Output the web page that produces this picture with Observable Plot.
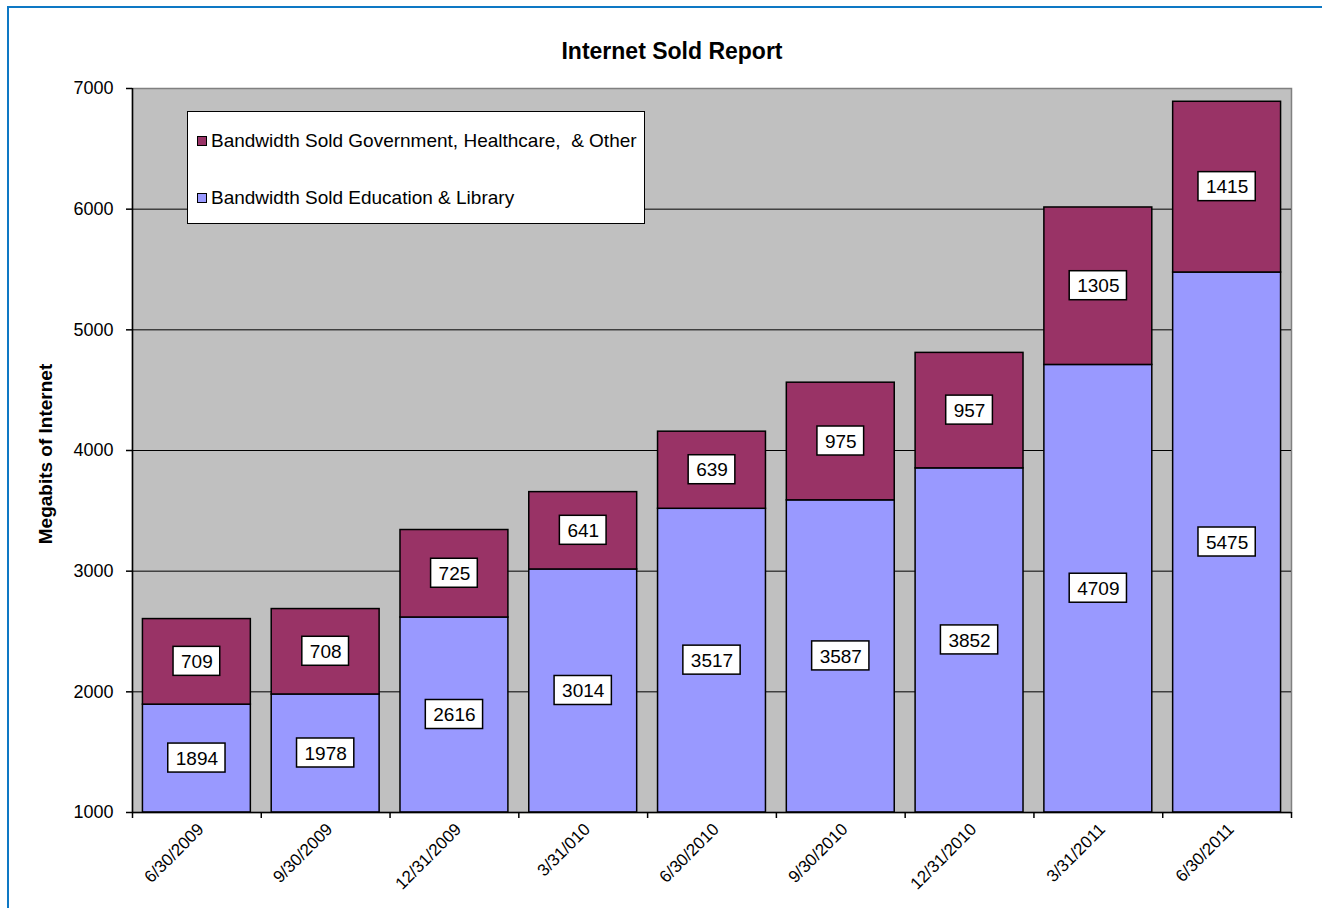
<!DOCTYPE html>
<html>
<head>
<meta charset="utf-8">
<script src="https://cdn.jsdelivr.net/npm/d3@7"></script>
<script src="https://cdn.jsdelivr.net/npm/@observablehq/plot@0.6"></script>
<style>
  html, body { margin: 0; padding: 0; background: #fff; }
  #wrap { position: relative; width: 1322px; height: 908px; overflow: hidden; background: #fff;
          font-family: "Liberation Sans", Arial, sans-serif; color: #000; }
  #border { position: absolute; left: 7px; top: 6px; width: 1400px; height: 1000px;
            border-left: 2px solid #0E78C4; border-top: 2px solid #0E78C4; }
  #title { position: absolute; left: 0; width: 1344px; top: 37px; text-align: center;
           font-weight: bold; font-size: 23px; line-height: 28px; }
  #chart { position: absolute; left: 0; top: 0; }
  #ylabel { position: absolute; left: 46px; top: 454px; transform: translate(-50%, -50%) rotate(-90deg);
            font-weight: bold; font-size: 19px; white-space: nowrap; }
  #legend { position: absolute; left: 187px; top: 111px; width: 456px; height: 111px;
            background: #fff; border: 1.5px solid #000; }
  .item { position: absolute; left: 9px; font-size: 19px; line-height: 22px; white-space: pre; }
  .sw { display: inline-block; width: 8px; height: 8px; border: 1px solid #000; margin-right: 4px; vertical-align: 1px; }
</style>
</head>
<body>
<div id="wrap">
  <div id="border"></div>
  <div id="chart"></div>
  <div id="title">Internet Sold Report</div>
  <div id="ylabel">Megabits of Internet</div>
  <div id="legend"></div>
</div>
<script>
const categories = ["6/30/2009", "9/30/2009", "12/31/2009", "3/31/010", "6/30/2010",
                    "9/30/2010", "12/31/2010", "3/31/2011", "6/30/2011"];
const education = [1894, 1978, 2616, 3014, 3517, 3587, 3852, 4709, 5475];
const government = [709, 708, 725, 641, 639, 975, 957, 1305, 1415];
const yTicks = [1000, 2000, 3000, 4000, 5000, 6000, 7000];
const gridValues = [2000, 3000, 4000, 5000, 6000];
const seriesNames = ["Bandwidth Sold Government, Healthcare,  & Other", "Bandwidth Sold Education & Library"];
const seriesColors = ["#993366", "#9999FF"];

const base = 1000;
const half = 0.419;
const rows = categories.map((c, i) => ({i, c, edu: education[i], gov: government[i]}));
const labelRows = rows.flatMap(d => [
  {i: d.i, mid: (base + d.edu) / 2, v: d.edu},
  {i: d.i, mid: d.edu + d.gov / 2, v: d.gov}
]);
const boundaries = d3.range(categories.length + 1).map(k => k - 0.5);
const FONT = '"Liberation Sans", Arial, sans-serif';

const chart = Plot.plot({
  width: 1322, height: 908,
  marginLeft: 132, marginRight: 31, marginTop: 88, marginBottom: 96,
  style: {fontFamily: FONT, fontSize: "18px", color: "#000", background: "transparent"},
  x: {type: "linear", domain: [-0.5, categories.length - 0.5], label: null},
  y: {type: "linear", domain: [1000, 7000], label: null},
  marks: [
    Plot.frame({fill: "#C0C0C0", stroke: "#808080", strokeWidth: 1.5}),
    Plot.ruleY(gridValues, {stroke: "#000", strokeWidth: 1}),
    Plot.rect(rows, {x1: d => d.i - half, x2: d => d.i + half, y1: () => base, y2: "edu",
                     fill: seriesColors[1], stroke: "#000", strokeWidth: 1.5}),
    Plot.rect(rows, {x1: d => d.i - half, x2: d => d.i + half, y1: "edu", y2: d => d.edu + d.gov,
                     fill: seriesColors[0], stroke: "#000", strokeWidth: 1.5}),
    Plot.ruleX([-0.5], {stroke: "#000", strokeWidth: 1.5}),
    Plot.ruleY([1000], {stroke: "#000", strokeWidth: 1.5}),
    Plot.axisY(yTicks, {tickSize: 6, tickPadding: 13, fontSize: 18, stroke: "#000", strokeWidth: 1.5,
                        tickFormat: d => String(d)}),
    Plot.axisX(boundaries, {tickSize: 6, tickFormat: () => "", stroke: "#000", strokeWidth: 1.5}),
    Plot.axisX(d3.range(categories.length), {tickSize: 0, tickPadding: 13, tickRotate: -45,
               tickFormat: k => categories[k], fontSize: 17, dx: 4, dy: 1}),
    Plot.text(labelRows, {x: "i", y: "mid", text: d => String(d.v), fontSize: 19, fill: "#000"})
  ]
});
document.getElementById("chart").appendChild(chart);

// white boxes behind the value labels (positions from Plot's own scales)
const xs = chart.scale("x"), ys = chart.scale("y");
const ctx = document.createElement("canvas").getContext("2d");
ctx.font = "19px " + FONT;
const boxLayer = document.createElementNS("http://www.w3.org/2000/svg", "g");
labelRows.forEach(d => {
  const w = ctx.measureText(String(d.v)).width + 15;
  const h = 29;
  const cx = xs.apply(d.i), cy = ys.apply(d.mid) - 0.5;
  const r = document.createElementNS("http://www.w3.org/2000/svg", "rect");
  r.setAttribute("x", cx - w / 2);
  r.setAttribute("y", cy - h / 2);
  r.setAttribute("width", w);
  r.setAttribute("height", h);
  r.setAttribute("fill", "#fff");
  r.setAttribute("stroke", "#000");
  r.setAttribute("stroke-width", "1.5");
  boxLayer.appendChild(r);
});
chart.insertBefore(boxLayer, chart.lastElementChild);

// legend
const legend = document.getElementById("legend");
[0, 1].forEach(k => {
  const div = document.createElement("div");
  div.className = "item";
  div.style.top = (k === 0 ? 18 : 75) + "px";
  const sw = document.createElement("span");
  sw.className = "sw";
  sw.style.background = seriesColors[k];
  div.appendChild(sw);
  div.appendChild(document.createTextNode(seriesNames[k]));
  legend.appendChild(div);
});
</script>
</body>
</html>
